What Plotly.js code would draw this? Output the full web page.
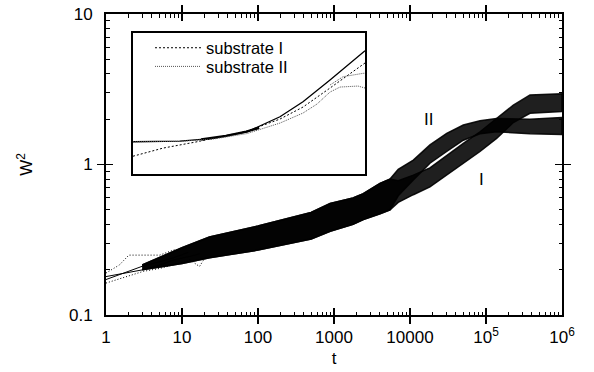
<!DOCTYPE html>
<html>
<head>
<meta charset="utf-8">
<script src="https://cdn.plot.ly/plotly-3.0.1.min.js"></script>
<style>html,body{margin:0;padding:0;background:#fff;}#chart{width:594px;height:372px;}</style>
</head>
<body>
<div id="chart"></div>
<script>
// ---------- main panel: W^2 vs t (bands = envelopes of the noisy runs) ----------
const commonT  = [3, 6, 10, 23, 100, 500, 890, 1780, 2430, 4030, 5460];
const commonLo = [0.20, 0.212, 0.22, 0.24, 0.27, 0.32, 0.36, 0.40, 0.43, 0.47, 0.50];
const commonHi = [0.215, 0.25, 0.28, 0.33, 0.39, 0.48, 0.55, 0.60, 0.64, 0.75, 0.80];

const bandI_T  = [7000, 11060, 18300, 30400, 50300, 83400, 138000, 229000, 379000, 1000000];
const bandI_Lo = [0.56, 0.63, 0.71, 0.85, 1.02, 1.22, 1.49, 1.90, 2.19, 2.25];
const bandI_Hi = [0.78, 0.85, 0.95, 1.15, 1.38, 1.65, 2.03, 2.48, 2.90, 2.95];

const bandII_T  = [7000, 11060, 18300, 30400, 50300, 83400, 138000, 229000, 379000, 1000000];
const bandII_Lo = [0.62, 0.79, 1.02, 1.22, 1.45, 1.60, 1.65, 1.62, 1.60, 1.58];
const bandII_Hi = [0.93, 1.07, 1.35, 1.61, 1.83, 1.95, 2.02, 2.00, 2.00, 2.05];

// early individual runs (t < 20)
const runA_T = [1, 1.9, 3.1, 5.1, 7.7, 12.7, 17];
const runA_W = [0.18, 0.19, 0.20, 0.215, 0.232, 0.245, 0.255];
const runD_T = [1, 2, 3.1, 5.1, 7.7, 12];
const runD_W = [0.172, 0.195, 0.212, 0.226, 0.24, 0.26];
const runB_T = [1, 1.5, 2, 3.1, 5.1, 7.7, 12.7];
const runB_W = [0.19, 0.215, 0.25, 0.25, 0.25, 0.27, 0.28];
const runC_T = [1, 1.9, 3.1, 5.1, 7.7, 12.7, 17, 20];
const runC_W = [0.163, 0.18, 0.195, 0.204, 0.215, 0.232, 0.21, 0.24];

// ---------- inset ----------
const fitT = [1, 6.46, 23.9, 92.4, 342, 853, 2493, 4894, 10000];
const fitW = [0.2207, 0.2244, 0.2398, 0.2818, 0.407, 0.5874, 1.0, 1.409, 2.05];
const subIT = [1, 3.29, 12.7, 23.9, 92.4, 342, 853, 2493, 4894, 10000];
const subIW = [0.155, 0.189, 0.2207, 0.2398, 0.2867, 0.3847, 0.516, 0.822, 1.103, 1.517];
const subIIT = [1, 6.46, 23.9, 92.4, 342, 853, 1487, 2493, 3707, 5510, 7570, 10000];
const subIIW = [0.2207, 0.2234, 0.2357, 0.2697, 0.3488, 0.4457, 0.5554, 0.745, 0.842, 0.853, 0.863, 0.822];
const subIbT = [2493, 4178, 9245, 10000];
const subIbW = [0.885, 1.084, 1.178, 1.18];
const noisyT = [15, 40, 90, 150];
const noisyW = [0.233, 0.255, 0.283, 0.31];

// tick labels
const xTickVals = [1, 10, 100, 1000, 10000, 100000, 1000000];
const xTickText = ['1', '10', '100', '1000', '10000', '10<sup>5</sup>', '10<sup>6</sup>'];
const yTickVals = [0.1, 1, 10];
const yTickText = ['0.1', '1', '10'];

function minorVals(d0, d1) {
  const v = [];
  for (let d = d0; d < d1; d++) for (let k = 2; k <= 9; k++) v.push(k * Math.pow(10, d));
  return v;
}
function band(t, lo, hi) {
  return { x: t.concat(t.slice().reverse()), y: hi.concat(lo.slice().reverse()) };
}

const bandStyle = { type: 'scatter', mode: 'lines', fill: 'toself', fillcolor: 'rgba(0,0,0,0.88)',
  line: { color: 'rgba(0,0,0,0.9)', width: 1.5 }, showlegend: false, hoverinfo: 'skip' };

const bI = band(commonT.concat(bandI_T), commonLo.concat(bandI_Lo), commonHi.concat(bandI_Hi));
const bII = band(commonT.concat(bandII_T), commonLo.concat(bandII_Lo), commonHi.concat(bandII_Hi));

const traces = [
  Object.assign({}, bandStyle, { x: bI.x, y: bI.y }),
  Object.assign({}, bandStyle, { x: bII.x, y: bII.y }),
  { x: runA_T, y: runA_W, mode: 'lines', line: { color: '#000', width: 1 }, showlegend: false },
  { x: runD_T, y: runD_W, mode: 'lines', line: { color: '#000', width: 1 }, showlegend: false },
  { x: runB_T, y: runB_W, mode: 'lines', line: { color: '#000', width: 1, dash: '1px,2px' }, showlegend: false },
  { x: runC_T, y: runC_W, mode: 'lines', line: { color: '#000', width: 1, dash: '1px,2px' }, showlegend: false },
  // minor-tick carrier traces (empty)
  { x: [], y: [], xaxis: 'x3', yaxis: 'y', mode: 'lines', showlegend: false, hoverinfo: 'skip' },
  { x: [], y: [], xaxis: 'x', yaxis: 'y3', mode: 'lines', showlegend: false, hoverinfo: 'skip' },
  // inset
  { x: fitT, y: fitW, xaxis: 'x2', yaxis: 'y2', mode: 'lines', line: { color: '#000', width: 1.3 }, showlegend: false },
  { x: noisyT, y: noisyW, xaxis: 'x2', yaxis: 'y2', mode: 'lines', line: { color: '#000', width: 2.5 }, showlegend: false },
  { x: subIT, y: subIW, xaxis: 'x2', yaxis: 'y2', mode: 'lines', name: 'substrate I',
    line: { color: '#000', width: 1, dash: '2px,2px' }, legend: 'legend' },
  { x: subIIT, y: subIIW, xaxis: 'x2', yaxis: 'y2', mode: 'lines', name: 'substrate II',
    line: { color: '#555', width: 1, dash: '1px,1px' }, legend: 'legend2' },
  { x: subIbT, y: subIbW, xaxis: 'x2', yaxis: 'y2', mode: 'lines',
    line: { color: '#555', width: 1, dash: '1px,1px' }, showlegend: false }
];

const font = { family: 'Liberation Sans, Arial, sans-serif', size: 17, color: '#000' };
const legendFont = { family: 'Liberation Sans, Arial, sans-serif', size: 16.5, color: '#000' };
const axisCommon = {
  type: 'log', showgrid: false, zeroline: false, showline: true, linecolor: '#000', linewidth: 2,
  mirror: 'allticks', ticks: 'inside', ticklen: 7, tickwidth: 1.5, tickcolor: '#000',
  tickmode: 'array', tickfont: font
};
const minorAxis = {
  type: 'log', showgrid: false, zeroline: false, showline: false, mirror: 'ticks',
  ticks: 'inside', ticklen: 3.5, tickwidth: 1, tickcolor: '#000', tickmode: 'array', showticklabels: false
};

const layout = {
  width: 594, height: 372,
  margin: { l: 106, r: 32, t: 14, b: 57 },
  paper_bgcolor: '#fff', plot_bgcolor: 'rgba(0,0,0,0)',
  font: font,
  xaxis: Object.assign({}, axisCommon, {
    range: [0, 6], domain: [0, 1], tickvals: xTickVals, ticktext: xTickText, ticklabelstandoff: 6,
    title: { text: 't', font: font, standoff: 6 }
  }),
  yaxis: Object.assign({}, axisCommon, {
    range: [-1, 1], domain: [0, 1], tickvals: yTickVals, ticktext: yTickText, ticklabelstandoff: 8,
    title: { text: 'W<sup>2</sup>', font: font, standoff: 32 }
  }),
  xaxis3: Object.assign({}, minorAxis, { range: [0, 6], overlaying: 'x', anchor: 'y', tickvals: minorVals(0, 6) }),
  yaxis3: Object.assign({}, minorAxis, { range: [-1, 1], overlaying: 'y', anchor: 'x', tickvals: minorVals(-1, 1) }),
  xaxis2: { type: 'log', range: [0, 4], domain: [0.0592, 0.568], anchor: 'y2', showgrid: false, zeroline: false,
    showline: true, linecolor: '#000', linewidth: 2, mirror: true, ticks: '', showticklabels: false },
  yaxis2: { type: 'log', range: [-1, 0.5], domain: [0.468, 0.937], anchor: 'x2', showgrid: false, zeroline: false,
    showline: true, linecolor: '#000', linewidth: 2, mirror: true, ticks: '', showticklabels: false },
  legend: { x: 0.0965, y: 0.887, xanchor: 'left', yanchor: 'middle', bgcolor: 'rgba(0,0,0,0)',
    font: legendFont, borderwidth: 0, itemwidth: 46 },
  legend2: { x: 0.0965, y: 0.825, xanchor: 'left', yanchor: 'middle', bgcolor: 'rgba(0,0,0,0)',
    font: legendFont, borderwidth: 0, itemwidth: 46 },
  annotations: [
    { x: Math.log10(17260), y: Math.log10(1.976), xref: 'x', yref: 'y', text: 'II', showarrow: false, font: font },
    { x: Math.log10(88500), y: Math.log10(0.789), xref: 'x', yref: 'y', text: 'I', showarrow: false, font: font }
  ],
  showlegend: true
};

Plotly.newPlot('chart', traces, layout, { staticPlot: true, displayModeBar: false });
</script>
</body>
</html>
